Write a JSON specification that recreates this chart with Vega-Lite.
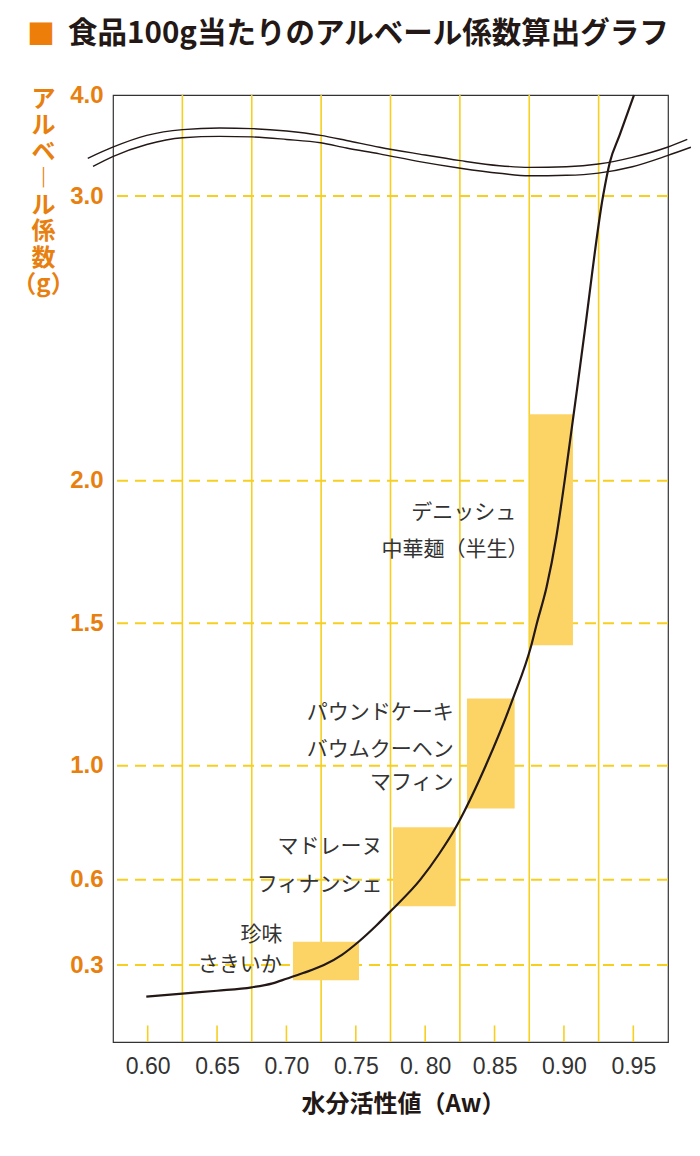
{
  "$schema": "https://vega.github.io/schema/vega-lite/v6.json",
  "autosize": {"type": "none"},
  "padding": {"left": 113, "top": 95, "right": 32, "bottom": 114},
  "width": 555,
  "height": 947,
  "background": "white",
  "config": {
    "font": "Noto Sans CJK JP",
    "view": {"stroke": "#333333", "strokeWidth": 1.2}
  },
  "title": {
    "text": "■",
    "font": "Noto Sans CJK JP",
    "fontSize": 28,
    "color": "#EE7E0A",
    "anchor": "start",
    "frame": "group",
    "dx": -86,
    "offset": 28,
    "subtitle": "\u200b　  \u2006食品100g当たりのアルベール係数算出グラフ",
    "subtitleFont": "Noto Sans CJK JP",
    "subtitleFontSize": 29.5,
    "subtitleFontWeight": "bold",
    "subtitleColor": "#231815",
    "subtitlePadding": -31
  },
  "datasets": {
    "vgrid": [
      {"aw": 0.625}, {"aw": 0.675}, {"aw": 0.725}, {"aw": 0.775},
      {"aw": 0.825}, {"aw": 0.875}, {"aw": 0.925}
    ],
    "hgrid": [
      {"albert": 0.3}, {"albert": 0.6}, {"albert": 1.0},
      {"albert": 1.5}, {"albert": 2.0}, {"albert": 3.0}
    ],
    "ticks": [
      {"aw": 0.60}, {"aw": 0.65}, {"aw": 0.70}, {"aw": 0.75},
      {"aw": 0.80}, {"aw": 0.85}, {"aw": 0.90}, {"aw": 0.95}
    ],
    "foods": [
      {"food": "珍味・さきいか", "aw_lo": 0.7047, "aw_hi": 0.7523, "albert_lo": 0.247, "albert_hi": 0.382},
      {"food": "マドレーヌ・フィナンシェ", "aw_lo": 0.7768, "aw_hi": 0.822, "albert_lo": 0.507, "albert_hi": 0.7835},
      {"food": "パウンドケーキ・バウムクーヘン・マフィン", "aw_lo": 0.8301, "aw_hi": 0.8645, "albert_lo": 0.850, "albert_hi": 1.236},
      {"food": "デニッシュ・中華麺（半生）", "aw_lo": 0.8753, "aw_hi": 0.9065, "albert_lo": 1.423, "albert_hi": 2.234}
    ],
    "curve": [
      {"aw": 0.599, "albert": 0.189},
      {"aw": 0.625, "albert": 0.200},
      {"aw": 0.650, "albert": 0.210},
      {"aw": 0.675, "albert": 0.222},
      {"aw": 0.690, "albert": 0.236},
      {"aw": 0.700, "albert": 0.252},
      {"aw": 0.712, "albert": 0.272},
      {"aw": 0.727, "albert": 0.300},
      {"aw": 0.740, "albert": 0.336},
      {"aw": 0.752, "albert": 0.382},
      {"aw": 0.765, "albert": 0.440},
      {"aw": 0.775, "albert": 0.489},
      {"aw": 0.7965, "albert": 0.600},
      {"aw": 0.810, "albert": 0.690},
      {"aw": 0.822, "albert": 0.783},
      {"aw": 0.8285, "albert": 0.843},
      {"aw": 0.8436, "albert": 1.000},
      {"aw": 0.8633, "albert": 1.236},
      {"aw": 0.8765, "albert": 1.423},
      {"aw": 0.8805, "albert": 1.500},
      {"aw": 0.8875, "albert": 1.627},
      {"aw": 0.8945, "albert": 1.803},
      {"aw": 0.9005, "albert": 2.000},
      {"aw": 0.9143, "albert": 2.500},
      {"aw": 0.9282, "albert": 3.000},
      {"aw": 0.9330, "albert": 3.330},
      {"aw": 0.9402, "albert": 3.604},
      {"aw": 0.9505, "albert": 4.000}
    ],
    "wave": [
      {"line": "upper", "aw": 0.5568, "albert": 3.373},
      {"line": "upper", "aw": 0.5748, "albert": 3.483},
      {"line": "upper", "aw": 0.5993, "albert": 3.600},
      {"line": "upper", "aw": 0.6252, "albert": 3.657},
      {"line": "upper", "aw": 0.6519, "albert": 3.673},
      {"line": "upper", "aw": 0.6749, "albert": 3.667},
      {"line": "upper", "aw": 0.7001, "albert": 3.643},
      {"line": "upper", "aw": 0.7246, "albert": 3.600},
      {"line": "upper", "aw": 0.7433, "albert": 3.550},
      {"line": "upper", "aw": 0.7671, "albert": 3.483},
      {"line": "upper", "aw": 0.7959, "albert": 3.415},
      {"line": "upper", "aw": 0.8254, "albert": 3.350},
      {"line": "upper", "aw": 0.8535, "albert": 3.300},
      {"line": "upper", "aw": 0.8751, "albert": 3.283},
      {"line": "upper", "aw": 0.9017, "albert": 3.290},
      {"line": "upper", "aw": 0.9248, "albert": 3.317},
      {"line": "upper", "aw": 0.9493, "albert": 3.383},
      {"line": "upper", "aw": 0.9745, "albert": 3.483},
      {"line": "upper", "aw": 0.9889, "albert": 3.560},
      {"line": "lower", "aw": 0.5606, "albert": 3.293},
      {"line": "lower", "aw": 0.5748, "albert": 3.390},
      {"line": "lower", "aw": 0.5993, "albert": 3.510},
      {"line": "lower", "aw": 0.6252, "albert": 3.577},
      {"line": "lower", "aw": 0.6519, "albert": 3.590},
      {"line": "lower", "aw": 0.6749, "albert": 3.585},
      {"line": "lower", "aw": 0.7001, "albert": 3.560},
      {"line": "lower", "aw": 0.7246, "albert": 3.527},
      {"line": "lower", "aw": 0.7433, "albert": 3.475},
      {"line": "lower", "aw": 0.7671, "albert": 3.417},
      {"line": "lower", "aw": 0.7959, "albert": 3.340},
      {"line": "lower", "aw": 0.8254, "albert": 3.275},
      {"line": "lower", "aw": 0.8535, "albert": 3.225},
      {"line": "lower", "aw": 0.8751, "albert": 3.200},
      {"line": "lower", "aw": 0.9017, "albert": 3.205},
      {"line": "lower", "aw": 0.9248, "albert": 3.227},
      {"line": "lower", "aw": 0.9493, "albert": 3.290},
      {"line": "lower", "aw": 0.9745, "albert": 3.400},
      {"line": "lower", "aw": 0.9915, "albert": 3.483}
    ],
    "labels": [
      {"label": "デニッシュ", "aw": 0.8657, "albert": 1.886},
      {"label": "中華麺（半生）", "aw": 0.8745, "albert": 1.757},
      {"label": "パウンドケーキ", "aw": 0.8205, "albert": 1.184},
      {"label": "バウムクーヘン", "aw": 0.8205, "albert": 1.055},
      {"label": "マフィン", "aw": 0.8205, "albert": 0.938},
      {"label": "マドレーヌ", "aw": 0.7692, "albert": 0.715},
      {"label": "フィナンシェ", "aw": 0.7692, "albert": 0.581},
      {"label": "珍味", "aw": 0.6971, "albert": 0.405},
      {"label": "さきいか", "aw": 0.6967, "albert": 0.302}
    ]
  },
  "layer": [
    {
      "data": {"name": "vgrid"},
      "mark": {"type": "rule", "color": "#F6CF20", "strokeWidth": 1.6},
      "encoding": {
        "x": {
          "field": "aw",
          "type": "quantitative",
          "scale": {"domain": [0.575, 0.975], "nice": false, "zero": false},
          "axis": {
            "values": [0.60, 0.65, 0.70, 0.75, 0.80, 0.85, 0.90, 0.95],
            "labelExpr": "datum.value > 0.79 && datum.value < 0.81 ? '0. 80' : format(datum.value, '.2f')",
            "labelFont": "Liberation Sans",
            "labelFontSize": 23,
            "labelColor": "#333333",
            "labelPadding": 13,
            "labelFlush": false,
            "labelOverlap": false,
            "ticks": false,
            "tickSize": 0,
            "domain": false,
            "grid": false,
            "title": "水分活性値（Aw）",
            "titleFont": "Noto Sans CJK JP",
            "titleFontSize": 24,
            "titleFontWeight": "bold",
            "titleColor": "#231815",
            "titleAlign": "center",
            "titleX": 290,
            "titlePadding": 14
          }
        }
      }
    },
    {
      "data": {"name": "hgrid"},
      "mark": {"type": "rule", "color": "#F6CF20", "strokeWidth": 2, "strokeDash": [11, 7]},
      "encoding": {
        "y": {
          "field": "albert",
          "type": "quantitative",
          "scale": {"domain": [0.03, 3.0, 4.0], "range": [947, 101, 0], "nice": false, "zero": false},
          "axis": {
            "values": [0.3, 0.6, 1.0, 1.5, 2.0, 3.0, 4.0],
            "format": ".1f",
            "labelFont": "Liberation Sans",
            "labelFontWeight": "bold",
            "labelFontSize": 24,
            "labelColor": "#E8800F",
            "labelPadding": 10,
            "labelFlush": false,
            "labelOverlap": false,
            "ticks": false,
            "tickSize": 0,
            "domain": false,
            "grid": false,
            "title": ["ア", "ル", "ベ", "︱", "ル", "係", "数", "（g）"],
            "titleFont": "Noto Sans CJK JP",
            "titleFontSize": 24,
            "titleFontWeight": "bold",
            "titleColor": "#E8800F",
            "titleAngle": 0,
            "titleAlign": "center",
            "titleBaseline": "top",
            "titleLineHeight": 26.5,
            "titleX": -70,
            "titleY": -8
          }
        }
      }
    },
    {
      "data": {"name": "foods"},
      "mark": {"type": "rect", "color": "#FCD466"},
      "encoding": {
        "x": {"field": "aw_lo", "type": "quantitative"},
        "x2": {"field": "aw_hi"},
        "y": {"field": "albert_lo", "type": "quantitative"},
        "y2": {"field": "albert_hi"}
      }
    },
    {
      "data": {"name": "curve"},
      "mark": {"type": "line", "color": "#231815", "strokeWidth": 2.2, "interpolate": "monotone"},
      "encoding": {
        "x": {"field": "aw", "type": "quantitative"},
        "y": {"field": "albert", "type": "quantitative"}
      }
    },
    {
      "data": {"name": "wave"},
      "mark": {"type": "line", "color": "#231815", "strokeWidth": 1.4, "interpolate": "monotone", "clip": false},
      "encoding": {
        "x": {"field": "aw", "type": "quantitative"},
        "y": {"field": "albert", "type": "quantitative"},
        "detail": {"field": "line"}
      }
    },
    {
      "data": {"name": "ticks"},
      "mark": {"type": "rule", "color": "#F6CF20", "strokeWidth": 1.6},
      "encoding": {
        "x": {"field": "aw", "type": "quantitative"},
        "y": {"datum": 0.03, "type": "quantitative"},
        "y2": {"datum": 0.088}
      }
    },
    {
      "data": {"name": "labels"},
      "mark": {"type": "text", "align": "right", "baseline": "middle", "font": "Noto Sans CJK JP", "fontSize": 21, "color": "#333333"},
      "encoding": {
        "x": {"field": "aw", "type": "quantitative"},
        "y": {"field": "albert", "type": "quantitative"},
        "text": {"field": "label"}
      }
    }
  ]
}
